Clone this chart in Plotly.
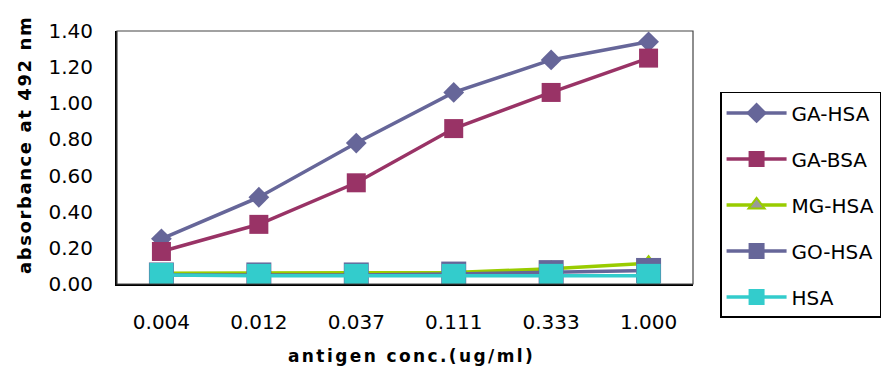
import plotly.graph_objects as go

categories = ["0.004", "0.012", "0.037", "0.111", "0.333", "1.000"]
ga_hsa = [0.25, 0.48, 0.78, 1.06, 1.24, 1.34]
ga_bsa = [0.18, 0.33, 0.56, 0.86, 1.06, 1.25]
mg_hsa = [0.06, 0.06, 0.06, 0.063, 0.085, 0.115]
go_hsa = [0.05, 0.05, 0.05, 0.055, 0.063, 0.075]
hsa = [0.05, 0.045, 0.045, 0.045, 0.045, 0.045]
y_ticks = [0, 0.2, 0.4, 0.6, 0.8, 1.0, 1.2, 1.4]
x_title = "antigen conc.(ug/ml)"
y_title = "absorbance at 492 nm"

series = [
    ("GA-HSA", ga_hsa, "#666699", dict(symbol="diamond", size=16, color="#666699")),
    ("GA-BSA", ga_bsa, "#993366", dict(symbol="square", size=19, color="#993366")),
    ("MG-HSA", mg_hsa, "#99CC00", dict(symbol="triangle-up", size=14, color="#999999",
                                       line=dict(color="#99CC00", width=2))),
    ("GO-HSA", go_hsa, "#666699", dict(symbol="square", size=25, color="#666699")),
    ("HSA", hsa, "#33CCCC", dict(symbol="square", size=24, color="#33CCCC")),
]

fig = go.Figure()
for i, (name, vals, col, mk) in enumerate(series):
    fig.add_trace(go.Scatter(
        x=categories, y=vals, name=name, mode="lines+markers",
        line=dict(color=col, width=3.5), marker=mk, legendgroup=f"g{i}",
    ))

title_font = dict(size=18, family="DejaVu Sans", weight="bold", color="black")

fig.update_layout(
    width=891, height=374,
    margin=dict(l=117, r=198, t=31, b=90, autoexpand=False),
    plot_bgcolor="white", paper_bgcolor="white",
    font=dict(family="DejaVu Sans", color="black"),
    showlegend=True,
    legend=dict(
        x=1.047, xanchor="left", y=0.759, yanchor="top",
        bgcolor="white", bordercolor="black", borderwidth=1.5,
        font=dict(family="DejaVu Sans", size=20, color="black"),
        tracegroupgap=17, itemwidth=60,
    ),
    xaxis=dict(
        type="category", showgrid=False, showline=True, linecolor="black", linewidth=2,
        ticks="", tickfont=dict(size=20), ticklabelstandoff=19,
    ),
    yaxis=dict(
        range=[0, 1.4], tickvals=y_ticks, tickformat=".2f", showgrid=False, zeroline=False,
        showline=True, linecolor="black", linewidth=2, ticks="", tickfont=dict(size=20),
        ticklabelstandoff=18,
    ),
    shapes=[dict(type="rect", xref="paper", yref="paper", x0=0, x1=1, y0=0, y1=1,
                 line=dict(color="#444444", width=1.2), layer="above")],
    annotations=[
        dict(text=f'<span style="letter-spacing:2.4px">{x_title}</span>',
             xref="paper", yref="paper", x=0.512, y=-0.2846, xanchor="center", yanchor="middle",
             showarrow=False, font=dict(title_font, size=17)),
        dict(text=f'<span style="letter-spacing:1.6px">{y_title}</span>',
             xref="paper", yref="paper", x=-0.1606, y=0.551, xanchor="center", yanchor="middle",
             textangle=-90, showarrow=False, font=title_font),
    ],
)

fig.write_html("out.html", config={"displayModeBar": False},
               post_script="document.body.style.margin='0';")
